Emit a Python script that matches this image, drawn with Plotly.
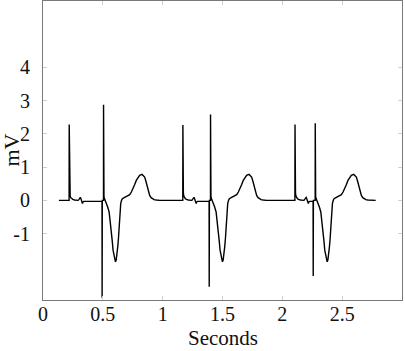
import plotly.graph_objects as go

# ---- data ----
# per-beat timing (seconds) and spike amplitudes (mV)
atrial_spike_t = [0.219, 1.169, 2.106]
atrial_spike_mv = [2.28, 2.27, 2.28]
vent_spike_t = [0.494, 1.389, 2.258]
vent_neg_mv = [-2.93, -2.6, -2.28]
vent_pos_mv = [2.88, 2.58, 2.32]
vent_gap_s = [0.012, 0.011, 0.017]

# atrial spike + small P-like wiggle, time relative to atrial spike
atrial_dt = [-0.001, 0.0, 0.0015, 0.004, 0.008, 0.013, 0.02, 0.03, 0.045,
             0.075, 0.082, 0.088, 0.093, 0.098, 0.104, 0.108, 0.111, 0.115, 0.122]
atrial_mv = [0.0, None, 0.45, 0.22, 0.13, 0.08, 0.05, 0.03, 0.01,
             0.0, 0.03, 0.07, 0.09, 0.05, -0.01, -0.08, -0.1, -0.05, -0.03]

# ventricular complex after the positive spike, time relative to the negative spike
vent_dt = [0.014, 0.016, 0.019, 0.024, 0.03, 0.036, 0.047, 0.059, 0.066, 0.073,
           0.08, 0.086, 0.092, 0.098, 0.105, 0.112, 0.118, 0.125, 0.131, 0.137,
           0.142, 0.148, 0.152, 0.156, 0.163, 0.17, 0.185, 0.198, 0.215, 0.231,
           0.245, 0.259, 0.272, 0.286, 0.3, 0.314, 0.334, 0.345, 0.356, 0.366,
           0.376, 0.387, 0.398, 0.41, 0.42, 0.435, 0.453, 0.481]
vent_mv = [0.3, 0.12, 0.06, 0.02, -0.03, -0.1, -0.2, -0.35, -0.55, -0.75,
           -1.0, -1.25, -1.5, -1.65, -1.8, -1.85, -1.8, -1.65, -1.4, -1.15,
           -0.85, -0.55, -0.3, -0.1, 0.0, 0.05, 0.08, 0.1, 0.13, 0.17,
           0.25, 0.35, 0.47, 0.6, 0.7, 0.75, 0.78, 0.75, 0.7, 0.58,
           0.45, 0.3, 0.15, 0.08, 0.05, 0.02, 0.01, 0.0]

start_t, start_mv = 0.133, 0.0
end_t, end_mv = 2.78, 0.0
baseline_mv = -0.03

x_ticks = [0, 0.5, 1, 1.5, 2, 2.5]
x_tick_text = ["0", "0.5", "1", "1.5", "2", "2.5"]
y_ticks = [-1, 0, 1, 2, 3, 4]
y_tick_text = ["-1", "0", "1", "2", "3", "4"]

# ---- assemble trace ----
t, v = [start_t], [start_mv]
for i in range(len(atrial_spike_t)):
    for dt, mv in zip(atrial_dt, atrial_mv):
        t.append(atrial_spike_t[i] + dt)
        v.append(atrial_spike_mv[i] if mv is None else mv)
    vt = vent_spike_t[i]
    g = vent_gap_s[i]
    t += [vt - 0.001, vt, vt + 0.0015, vt + g - 0.0005, vt + g]
    v += [baseline_mv, vent_neg_mv[i], 0.0, 0.0, vent_pos_mv[i]]
    for dt, mv in zip(vent_dt, vent_mv):
        t.append(vt + g + (dt - 0.0125))
        v.append(mv)
t.append(end_t)
v.append(end_mv)

font_family = "Liberation Serif"
text_color = "#111"

fig = go.Figure(go.Scatter(x=t, y=v, mode="lines",
                           line=dict(color="black", width=1.4),
                           hoverinfo="skip", showlegend=False))

axis_common = dict(showline=True, linecolor="#7a7a7a", linewidth=1, mirror="ticks",
                   ticks="inside", ticklen=4, tickcolor="#d0d0d0", tickwidth=1,
                   showgrid=False, zeroline=False, automargin=False,
                   tickfont=dict(family=font_family, size=20, color=text_color))

fig.update_layout(
    template="none",
    width=405, height=351,
    margin=dict(l=43, r=3, t=1, b=51),
    plot_bgcolor="white", paper_bgcolor="white",
    xaxis=dict(range=[0, 3], tickvals=x_ticks, ticktext=x_tick_text,
               ticklabelstandoff=-4, **axis_common),
    yaxis=dict(range=[-3, 6], tickvals=y_ticks, ticktext=y_tick_text,
               ticklabelstandoff=8, **axis_common),
    annotations=[
        dict(text="Seconds", xref="paper", yref="paper", x=0.5, y=0,
             xanchor="center", yanchor="bottom", yshift=-51, showarrow=False,
             borderpad=0,
             font=dict(family=font_family, size=21, color=text_color)),
        dict(text="mV", xref="paper", yref="paper", x=0, y=0.5,
             xanchor="center", yanchor="middle", xshift=-32, textangle=-90,
             showarrow=False,
             font=dict(family=font_family, size=22, color=text_color)),
    ],
)

fig.write_html("out.html",
               config={"displayModeBar": False},
               post_script="document.body.style.margin='0px';"
                           "document.body.style.overflow='hidden';")
